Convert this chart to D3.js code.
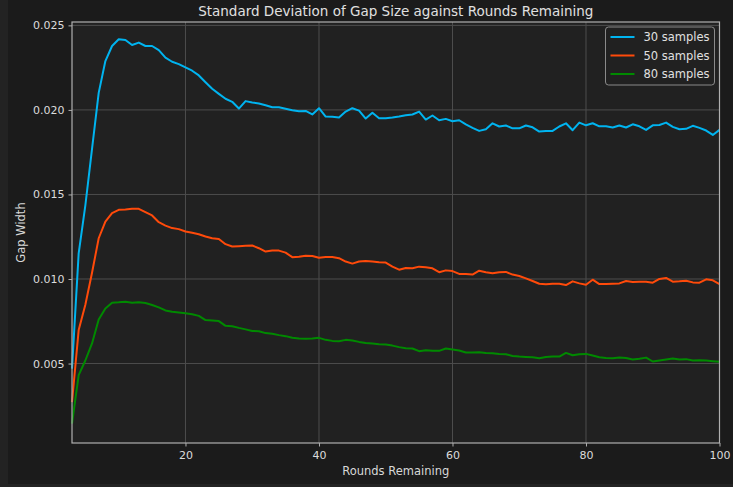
<!DOCTYPE html>
<html>
<head>
<meta charset="utf-8">
<script src="https://cdn.jsdelivr.net/npm/d3@7"></script>
<style>
  html, body { margin: 0; padding: 0; background: #232323; }
  svg { display: block; font-family: "DejaVu Sans", sans-serif; }
</style>
</head>
<body>
<svg id="chart" width="733" height="487"></svg>
<script>
// rounds remaining 3..100
const rounds = d3.range(3, 101);

const samples30 = [
  0.00470, 0.01152, 0.01435, 0.01769, 0.02101, 0.02289, 0.02378, 0.02418, 0.02414, 0.02384,
  0.02398, 0.02378, 0.02378, 0.02354, 0.02309, 0.02285, 0.02271, 0.02251, 0.02232, 0.02204,
  0.02164, 0.02125, 0.02095, 0.02066, 0.02048, 0.02008, 0.02052, 0.02044, 0.02038, 0.02028,
  0.02016, 0.02016, 0.02007, 0.01998, 0.01992, 0.01994, 0.01973, 0.02010, 0.01961, 0.01959,
  0.01955, 0.01990, 0.02010, 0.01996, 0.01949, 0.01983, 0.01951, 0.01951, 0.01955, 0.01961,
  0.01969, 0.01973, 0.01990, 0.01943, 0.01967, 0.01939, 0.01947, 0.01933, 0.01939, 0.01914,
  0.01894, 0.01876, 0.01886, 0.01921, 0.01902, 0.01908, 0.01891, 0.01891, 0.01908, 0.01897,
  0.01872, 0.01876, 0.01876, 0.01902, 0.01921, 0.01880, 0.01925, 0.01909, 0.01921, 0.01903,
  0.01903, 0.01896, 0.01908, 0.01896, 0.01915, 0.01903, 0.01882, 0.01909, 0.01911, 0.01925,
  0.01900, 0.01886, 0.01888, 0.01906, 0.01894, 0.01878, 0.01852, 0.01882
];

const samples50 = [
  0.00272, 0.00698, 0.00848, 0.01037, 0.01241, 0.01340, 0.01390, 0.01409, 0.01411, 0.01415,
  0.01415, 0.01396, 0.01376, 0.01336, 0.01316, 0.01301, 0.01295, 0.01281, 0.01273, 0.01265,
  0.01251, 0.01241, 0.01237, 0.01206, 0.01192, 0.01194, 0.01196, 0.01198, 0.01182, 0.01162,
  0.01168, 0.01168, 0.01156, 0.01129, 0.01132, 0.01138, 0.01136, 0.01126, 0.01130, 0.01130,
  0.01123, 0.01103, 0.01091, 0.01103, 0.01107, 0.01103, 0.01099, 0.01097, 0.01073, 0.01055,
  0.01065, 0.01063, 0.01073, 0.01069, 0.01063, 0.01040, 0.01051, 0.01047, 0.01030, 0.01030,
  0.01026, 0.01049, 0.01040, 0.01034, 0.01040, 0.01042, 0.01026, 0.01018, 0.01004, 0.00988,
  0.00972, 0.00969, 0.00972, 0.00972, 0.00964, 0.00986, 0.00974, 0.00966, 0.00996, 0.00970,
  0.00970, 0.00972, 0.00974, 0.00988, 0.00982, 0.00984, 0.00984, 0.00978, 0.01000, 0.01006,
  0.00984, 0.00986, 0.00990, 0.00980, 0.00978, 0.00998, 0.00992, 0.00970
];

const samples80 = [
  0.00144, 0.00431, 0.00518, 0.00619, 0.00761, 0.00826, 0.00860, 0.00862, 0.00866, 0.00860,
  0.00862, 0.00858, 0.00846, 0.00832, 0.00814, 0.00806, 0.00802, 0.00797, 0.00791, 0.00782,
  0.00757, 0.00755, 0.00751, 0.00723, 0.00721, 0.00711, 0.00702, 0.00693, 0.00691, 0.00680,
  0.00676, 0.00668, 0.00662, 0.00652, 0.00648, 0.00646, 0.00648, 0.00652, 0.00640, 0.00634,
  0.00632, 0.00640, 0.00636, 0.00628, 0.00622, 0.00618, 0.00614, 0.00612, 0.00606, 0.00597,
  0.00591, 0.00589, 0.00573, 0.00579, 0.00575, 0.00575, 0.00589, 0.00583, 0.00577, 0.00565,
  0.00565, 0.00567, 0.00563, 0.00561, 0.00557, 0.00555, 0.00545, 0.00541, 0.00539, 0.00537,
  0.00531, 0.00539, 0.00541, 0.00541, 0.00563, 0.00549, 0.00555, 0.00557, 0.00547, 0.00537,
  0.00533, 0.00531, 0.00535, 0.00533, 0.00524, 0.00528, 0.00535, 0.00512, 0.00518, 0.00524,
  0.00530, 0.00524, 0.00526, 0.00518, 0.00520, 0.00518, 0.00514, 0.00510
];

const seriesNames = ["30 samples", "50 samples", "80 samples"];
const seriesColors = ["#00b4f0", "#ff4a0a", "#008a00"];
const xTicks = [20, 40, 60, 80, 100];
const yTicks = [0.005, 0.010, 0.015, 0.020, 0.025];

const series = [samples30, samples50, samples80].map((vals, i) => ({
  name: seriesNames[i],
  color: seriesColors[i],
  values: vals.map((v, j) => ({ x: rounds[j], y: v }))
}));

const svg = d3.select("#chart");
const margin = { top: 22, right: 13.5, bottom: 44, left: 72 };
const width = 733 - margin.left - margin.right,
      height = 487 - margin.top - margin.bottom;

// figure background
svg.append("rect")
  .attr("x", 8).attr("y", 0)
  .attr("width", 725).attr("height", 484)
  .attr("fill", "#1b1b1b");

const g = svg.append("g")
  .attr("transform", "translate(" + margin.left + "," + margin.top + ")");

const x = d3.scaleLinear().domain([3, 100]).range([0, width]);
const y = d3.scaleLinear().domain([0.0003, 0.0252]).range([height, 0]);

g.append("rect")
  .attr("width", width).attr("height", height)
  .attr("fill", "#212121");

// grid
g.selectAll(".xgrid").data(xTicks).join("line")
  .attr("x1", d => x(d)).attr("x2", d => x(d))
  .attr("y1", 0).attr("y2", height)
  .attr("stroke", "#4d4d4d").attr("stroke-width", 1);
g.selectAll(".ygrid").data(yTicks).join("line")
  .attr("x1", 0).attr("x2", width)
  .attr("y1", d => y(d)).attr("y2", d => y(d))
  .attr("stroke", "#4d4d4d").attr("stroke-width", 1);

// lines
const line = d3.line().x(d => x(d.x)).y(d => y(d.y));
g.selectAll(".series").data(series).join("path")
  .attr("d", d => line(d.values))
  .attr("fill", "none")
  .attr("stroke", d => d.color)
  .attr("stroke-width", 2)
  .attr("stroke-linejoin", "round");

// spines
g.append("rect")
  .attr("width", width).attr("height", height)
  .attr("fill", "none")
  .attr("stroke", "#b0b0b0").attr("stroke-width", 1.2);

// axes
const xAxis = d3.axisBottom(x).tickValues(xTicks).tickSize(3.5).tickPadding(5).tickFormat(d3.format("d"));
const yAxis = d3.axisLeft(y).tickValues(yTicks).tickSize(3.5).tickPadding(4).tickFormat(d3.format(".3f"));

const xa = g.append("g").attr("transform", "translate(0," + height + ")").call(xAxis);
const ya = g.append("g").call(yAxis);
[xa, ya].forEach(a => {
  a.select(".domain").remove();
  a.selectAll("line").attr("stroke", "#b0b0b0");
  a.selectAll("text").attr("fill", "#dcdcdc").style("font-size", "11px")
    .style("font-family", "'DejaVu Sans', sans-serif");
});

// title and labels
svg.append("text")
  .attr("x", margin.left + width / 2).attr("y", 16)
  .attr("text-anchor", "middle")
  .attr("fill", "#e0e0e0").style("font-size", "13.5px")
  .text("Standard Deviation of Gap Size against Rounds Remaining");

svg.append("text")
  .attr("x", margin.left + width / 2).attr("y", 475)
  .attr("text-anchor", "middle")
  .attr("fill", "#d8d8d8").style("font-size", "11.5px")
  .text("Rounds Remaining");

svg.append("text")
  .attr("transform", "translate(25," + (margin.top + height / 2) + ") rotate(-90)")
  .attr("text-anchor", "middle")
  .attr("fill", "#d8d8d8").style("font-size", "11.5px")
  .text("Gap Width");

// legend
const legend = g.append("g").attr("transform", "translate(" + (width - 114) + ",5)");
legend.append("rect")
  .attr("width", 109).attr("height", 58)
  .attr("rx", 3)
  .attr("fill", "#212121")
  .attr("stroke", "#8a8a8a").attr("stroke-width", 1);
const items = legend.selectAll(".item").data(series).join("g")
  .attr("transform", (d, i) => "translate(0," + (10 + i * 18.5) + ")");
items.append("line")
  .attr("x1", 5).attr("x2", 29)
  .attr("stroke", d => d.color).attr("stroke-width", 2);
items.append("text")
  .attr("x", 38).attr("y", 4)
  .attr("fill", "#e0e0e0").style("font-size", "11.5px")
  .text(d => d.name);
</script>
</body>
</html>
